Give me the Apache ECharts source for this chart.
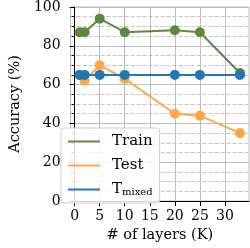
<!DOCTYPE html>
<html>
<head>
<meta charset="utf-8">
<script src="https://cdn.jsdelivr.net/npm/echarts@6/dist/echarts.min.js"></script>
<style>html,body{margin:0;padding:0;background:#fff;}#c{width:250px;height:248px;}</style>
</head>
<body>
<div id="c"></div>
<script>
var layers = [1, 2, 5, 10, 20, 25, 33];
var train = [87, 87, 94, 87, 88, 87, 66];
var test = [65, 62, 70, 63, 45, 44, 35];
var tmixed = [65, 65, 65, 65, 65, 65, 65];
var xTicks = [0, 5, 10, 15, 20, 25, 30];
var yTicks = [0, 20, 40, 60, 80, 100];

function pairs(xs, ys) { return xs.map(function (x, i) { return [x, ys[i]]; }); }

var FONT = 'DejaVu Serif';
var chart = echarts.init(document.getElementById('c'), null, {renderer: 'canvas'});
function mk(name, data, color, z) {
  return {
    name: name, type: 'line', data: pairs(layers, data),
    symbol: 'circle', symbolSize: 10, showSymbol: true,
    lineStyle: {color: color, width: 2}, itemStyle: {color: color},
    color: color, z: z, animation: false, emphasis: {disabled: true}
  };
}
chart.setOption({
  animation: false,
  backgroundColor: '#fff',
  textStyle: {fontFamily: FONT},
  grid: {left: 61, right: 1, top: 7, bottom: 45, show: true, borderColor: '#bdbdbd', borderWidth: 1},
  xAxis: {
    type: 'value', min: -0.8, max: 34.8,
    name: '# of layers (K)', nameLocation: 'middle', nameGap: 27,
    nameTextStyle: {fontFamily: FONT, fontSize: 14.5, color: '#000'},
    axisLine: {show: true, lineStyle: {color: '#000', width: 1}},
    axisTick: {show: true, length: 5, customValues: xTicks, lineStyle: {color: '#000'}},
    axisLabel: {customValues: xTicks, margin: 8, fontFamily: FONT, fontSize: 14, color: '#000'},
    splitLine: {show: true, lineStyle: {color: '#bdbdbd', width: 1}}
  },
  yAxis: {
    type: 'value', min: 0, max: 100, interval: 20,
    name: 'Accuracy (%)', nameLocation: 'middle', nameGap: 37,
    nameTextStyle: {fontFamily: FONT, fontSize: 14.5, color: '#000'},
    axisLine: {show: true, lineStyle: {color: '#000', width: 1}},
    axisTick: {show: true, length: 5, lineStyle: {color: '#000'}},
    minorTick: {show: true, splitNumber: 4, length: 3, lineStyle: {color: '#000'}},
    axisLabel: {margin: 10, fontFamily: FONT, fontSize: 14, color: '#000'},
    splitLine: {show: true, lineStyle: {color: '#bdbdbd', width: 1}},
    minorSplitLine: {show: true, lineStyle: {color: '#c4c4c4', width: 1, type: [4, 2]}}
  },
  legend: {
    orient: 'vertical', left: 61, top: 128,
    padding: [6, 7, 6, 7], itemGap: 9,
    itemWidth: 32, itemHeight: 2, icon: 'rect',
    backgroundColor: 'rgba(255,255,255,0.85)', borderColor: '#cccccc', borderWidth: 1, borderRadius: 3,
    data: ['Train', 'Test', 'Tmixed'],
    formatter: function (n) { return n === 'Tmixed' ? '{t|T}{s|mixed}' : '{t|' + n + '}'; },
    textStyle: {
      fontFamily: FONT, fontSize: 15, color: '#000',
      rich: {
        t: {fontFamily: FONT, fontSize: 15, color: '#000', padding: [0, 0, 0, 7], lineHeight: 15},
        s: {fontFamily: FONT, fontSize: 10, color: '#000', verticalAlign: 'bottom', padding: [5, 0, 0, 0], lineHeight: 15}
      }
    },
    z: 10
  },
  series: [
    mk('Train', train, '#5b8a3c', 2),
    mk('Test', test, '#ffa64d', 3),
    mk('Tmixed', tmixed, '#1f77b4', 4)
  ]
});
</script>
</body>
</html>
